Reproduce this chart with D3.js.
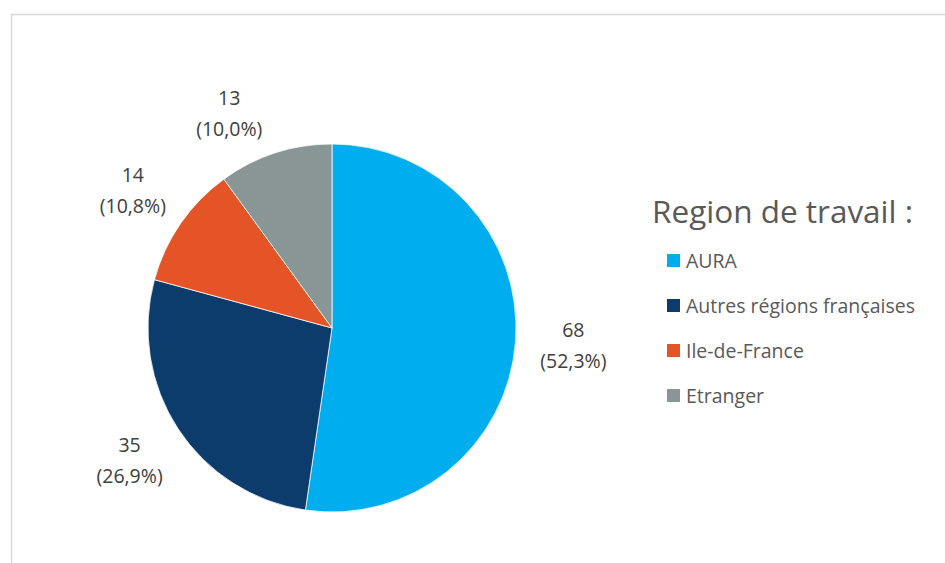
<!DOCTYPE html>
<html>
<head>
<meta charset="utf-8">
<script src="https://cdn.jsdelivr.net/npm/d3@7"></script>
<style>
  body { margin: 0; background: #fff; }
  svg { display: block; font-family: "Open Sans", "Liberation Sans", sans-serif; }
</style>
</head>
<body>
<div class="chart"></div>
<script>
// données
const categories = ['AURA', 'Autres régions françaises', 'Ile-de-France', 'Etranger']
const values = [68, 35, 14, 13]
const percentLabels = ['52,3%', '26,9%', '10,8%', '10,0%']
const colors = ['#00adef', '#0c3c6b', '#e45427', '#8a9696']
const legendTitle = 'Region de travail :'

const width = 945, height = 563

const svg = d3.select('.chart')
              .append('svg')
              .attr('width', width)
              .attr('height', height)

// cadre
svg.append('rect')
   .attr('x', 11.5).attr('y', 14.5)
   .attr('width', width).attr('height', height)
   .attr('fill', 'none')
   .attr('stroke', '#d9d9d9')
   .attr('stroke-width', 1.5)

const cx = 332, cy = 328, radius = 184

const pie = d3.pie().sort(null).value(d => d.value)
const arcs = pie(categories.map((c, i) => ({name: c, value: values[i], pct: percentLabels[i]})))

const arc = d3.arc().innerRadius(0).outerRadius(radius)
const labelArc = d3.arc().innerRadius(242).outerRadius(242)

const g = svg.append('g').attr('transform', `translate(${cx},${cy})`)

g.selectAll('path')
 .data(arcs)
 .join('path')
 .attr('d', arc)
 .attr('fill', (d, i) => colors[i])
 .attr('stroke', '#fff')
 .attr('stroke-width', 0.75)

// étiquettes (les petites parts en haut sont décalées vers la gauche, comme Excel)
const labels = g.selectAll('text.lbl')
 .data(arcs)
 .join('text')
 .attr('class', 'lbl')
 .attr('transform', d => {
     let [x, y] = labelArc.centroid(d)
     if (y < -200) { x -= 28; y += 16 }
     return `translate(${x},${y})`
 })
 .attr('text-anchor', 'middle')
 .style('fill', '#404040')
 .style('font-size', '19.5px')

labels.append('tspan').attr('x', 0).attr('dy', '-0.45em').text(d => d.data.value)
labels.append('tspan').attr('x', 0).attr('dy', '1.6em').text(d => `(${d.data.pct})`)

// légende
svg.append('text')
   .attr('x', 652).attr('y', 223)
   .style('fill', '#595959')
   .style('font-size', '31.5px')
   .text(legendTitle)

const legend = svg.append('g')
   .selectAll('g')
   .data(categories)
   .join('g')
   .attr('transform', (d, i) => `translate(667,${261 + i * 45})`)

legend.append('rect')
   .attr('x', 0).attr('y', -7)
   .attr('width', 13).attr('height', 13)
   .attr('fill', (d, i) => colors[i])

legend.append('text')
   .attr('x', 19).attr('y', 0)
   .attr('dy', '0.35em')
   .style('fill', '#595959')
   .style('font-size', '19.5px')
   .text(d => d)
</script>
</body>
</html>
